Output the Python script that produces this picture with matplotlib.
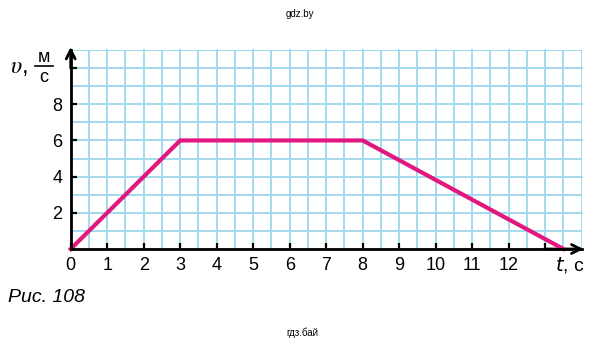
import matplotlib.pyplot as plt
import numpy as np

plt.rcParams['font.family'] = ['Liberation Sans', 'DejaVu Sans']

t = [0, 3, 8, 13.5]
v = [0, 6, 6, 0]

x_ticks = list(range(0, 14))
x_labels = [str(i) for i in range(0, 13)] + ['']
y_ticks = [2, 4, 6, 8, 10]
y_labels = ['2', '4', '6', '8', '']

W, H = 603, 347
fig = plt.figure(figsize=(W / 100, H / 100), dpi=100)
ax = fig.add_axes([70.7 / W, 1 - 249 / H, 511 / W, 199 / H])

ax.set_xlim(0, 14)
ax.set_ylim(0, 11)

grid_col = '#a3d9ef'
ax.set_xticks(x_ticks)
ax.set_xticklabels(x_labels)
ax.set_xticks(np.arange(0, 14.01, 0.5), minor=True)
ax.set_yticks(y_ticks)
ax.set_yticklabels(y_labels)
ax.set_yticks(np.arange(0, 11.01, 1), minor=True)
ax.grid(which='both', color=grid_col, lw=1.4)
for gl in ax.get_xgridlines() + ax.get_ygridlines():
    gl.set_clip_on(False)
ax.set_axisbelow(True)

ax.tick_params(which='major', direction='in', length=4.5, width=1.6, color='black',
               labelsize=13, pad=6)
ax.tick_params(which='minor', length=0)

for s in ['top', 'right']:
    ax.spines[s].set_visible(False)
for s in ['left', 'bottom']:
    ax.spines[s].set_linewidth(2)
    ax.spines[s].set_zorder(5)

ax.plot(t, v, color='#e0187f', lw=3, solid_joinstyle='miter', clip_on=False, zorder=4)

# axis arrows
arrow = dict(arrowstyle='->', lw=2, color='black', mutation_scale=16, shrinkA=0, shrinkB=0)
ax.annotate('', xy=(0, 11.17), xytext=(0, 10.0), arrowprops=arrow, annotation_clip=False)
ax.annotate('', xy=(14.05, 0), xytext=(13.0, 0), arrowprops=arrow, annotation_clip=False)

# axis labels
fig.text(10 / W, 1 - 73 / H, r'$\upsilon$,', fontsize=17, ha='left', va='baseline',
         math_fontfamily='stix')
fig.text(44 / W, 1 - 58 / H, 'м', fontsize=13, ha='center', va='center')
fig.lines.append(plt.Line2D([35 / W, 53 / W], [1 - 66 / H, 1 - 66 / H], lw=1.2,
                            color='black', transform=fig.transFigure))
fig.text(44 / W, 1 - 77 / H, 'с', fontsize=13, ha='center', va='center')

fig.text(555 / W, 1 - 265 / H, r'$t$, с', fontsize=14, ha='left', va='center')

fig.text(8 / W, 1 - 297 / H, 'Рис. 108', fontsize=14, style='italic', ha='left', va='center')
fig.text(300 / W, 1 - 14 / H, 'gdz.by', fontsize=7, ha='center', va='center')
fig.text(302 / W, 1 - 333 / H, 'гдз.бай', fontsize=7, ha='center', va='center')

fig.savefig('out.png', dpi=100)
